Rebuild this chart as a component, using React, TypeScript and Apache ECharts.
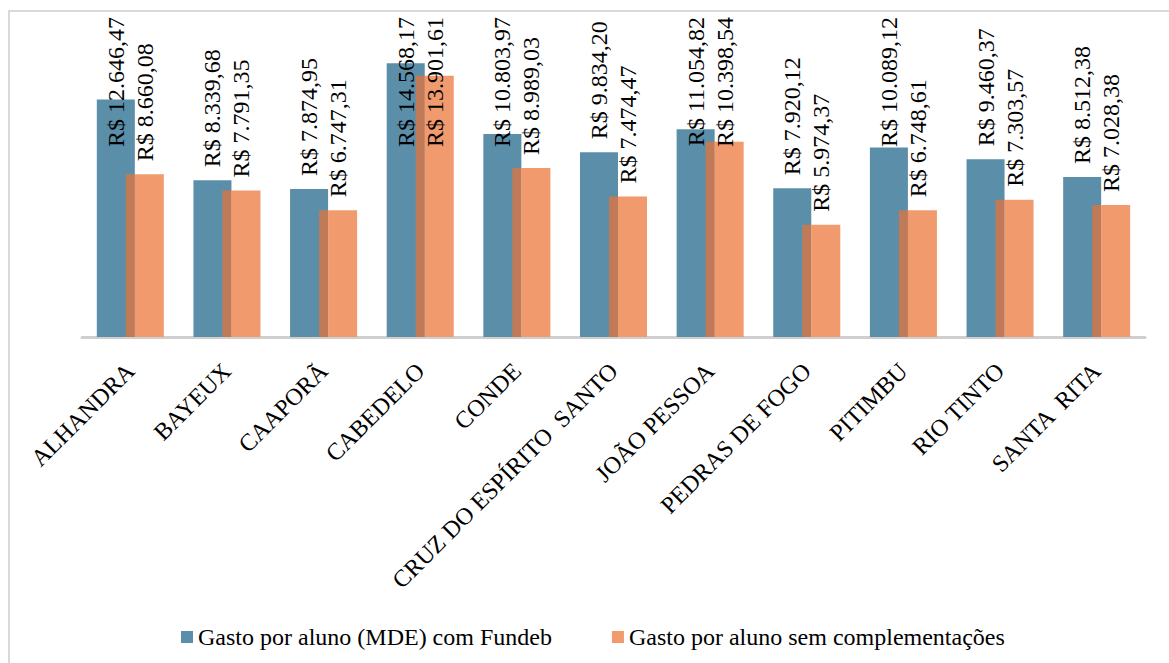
import React, { useEffect, useRef } from "react";
import * as echarts from "echarts";

const categories = [
  "ALHANDRA",
  "BAYEUX",
  "CAAPORÃ",
  "CABEDELO",
  "CONDE",
  "CRUZ DO ESPÍRITO  SANTO",
  "JOÃO PESSOA",
  "PEDRAS DE FOGO",
  "PITIMBU",
  "RIO TINTO",
  "SANTA  RITA",
];

const comFundeb = [
  12646.47, 8339.68, 7874.95, 14568.17, 10803.97, 9834.2, 11054.82, 7920.12,
  10089.12, 9460.37, 8512.38,
];

const semComplementacoes = [
  8660.08, 7791.35, 6747.31, 13901.61, 8989.03, 7474.47, 10398.54, 5974.37,
  6748.61, 7303.57, 7028.38,
];

const seriesNames = [
  "Gasto por aluno (MDE) com Fundeb",
  "Gasto por aluno sem complementações",
];

const BLUE = "#5b8fa9";
const ORANGE = "#f09a6e";
const OVERLAP = "#c07a58";
const LABEL_SIZE = 24;
const FONT_FAMILY = "Liberation Serif";
const LABEL_FONT = LABEL_SIZE + "px 'Liberation Serif'";

let measureCtx: CanvasRenderingContext2D | null = null;
function textWidth(t: string): number {
  if (!measureCtx) {
    const c = document.createElement("canvas");
    measureCtx = c.getContext("2d");
  }
  if (!measureCtx) return t.length * 11;
  measureCtx.font = LABEL_FONT;
  return measureCtx.measureText(t).width;
}

function fmt(v: number): string {
  return (
    "R$ " +
    v.toLocaleString("pt-BR", {
      minimumFractionDigits: 2,
      maximumFractionDigits: 2,
    })
  );
}

function makeRender(which: 0 | 1) {
  return (params: any, api: any) => {
    const idx = api.value(0);
    const v = api.value(1);
    const base = api.coord([idx, 0]);
    const top = api.coord([idx, v]);
    const band = api.size([1, 0])[0];
    const k = band / 96.6;
    const cx = base[0];
    const h = base[1] - top[1];
    const w = 38 * k;
    const children: any[] = [];
    let barCenter: number;
    if (which === 0) {
      const left = cx - 33.5 * k;
      children.push({
        type: "rect",
        shape: { x: left, y: top[1], width: w, height: h },
        style: { fill: BLUE },
      });
      barCenter = left + w / 2;
    } else {
      const left = cx - 4.5 * k;
      const ov = 9 * k;
      children.push({
        type: "rect",
        shape: { x: left, y: top[1], width: ov, height: h },
        style: { fill: OVERLAP },
      });
      children.push({
        type: "rect",
        shape: { x: left + ov, y: top[1], width: w - ov, height: h },
        style: { fill: ORANGE },
      });
      barCenter = left + w / 2;
    }
    const txt = fmt(v);
    const tw = textWidth(txt);
    const start = top[1] - 13;
    const clampTop = 17;
    const clamped = start - tw < clampTop;
    children.push({
      type: "text",
      x: barCenter,
      y: clamped ? clampTop : start,
      rotation: Math.PI / 2,
      z2: 100,
      style: {
        text: txt,
        font: LABEL_FONT,
        fontSize: LABEL_SIZE,
        fontFamily: FONT_FAMILY,
        fill: "#000",
        align: clamped ? "right" : "left",
        verticalAlign: "middle",
      },
    });
    return { type: "group", children };
  };
}

export default function App() {
  const ref = useRef<HTMLDivElement>(null);
  useEffect(() => {
    if (!ref.current) return;
    const chart = echarts.init(ref.current, undefined, { renderer: "svg" });
    chart.setOption({
      animation: false,
      backgroundColor: "#fff",
      textStyle: { fontFamily: FONT_FAMILY },
      grid: { left: 82, right: 24, top: 36.4, bottom: 326 },
      xAxis: {
        type: "category",
        data: categories,
        axisTick: { show: false },
        axisLine: { lineStyle: { color: "#cfcfcf", width: 3 } },
        axisLabel: {
          interval: 0,
          rotate: 45,
          margin: 30,
          color: "#000",
          fontSize: 24,
          fontFamily: FONT_FAMILY,
        },
      },
      yAxis: {
        type: "value",
        min: 0,
        max: 16000,
        show: false,
      },
      legend: {
        left: 176,
        top: 620,
        icon: "rect",
        itemWidth: 12,
        itemHeight: 12,
        itemGap: 60,
        textStyle: { fontSize: 24, fontFamily: FONT_FAMILY, color: "#000" },
        data: seriesNames,
      },
      graphic: [
        {
          type: "polyline",
          shape: {
            points: [
              [9, 663],
              [9, 11],
              [1169, 11],
            ],
          },
          style: { stroke: "#d9d9d9", lineWidth: 2, fill: "none" },
          silent: true,
        },
      ],
      series: [
        {
          type: "custom",
          name: seriesNames[0],
          itemStyle: { color: BLUE },
          data: comFundeb.map((v, i) => [i, v]),
          encode: { x: 0, y: 1 },
          renderItem: makeRender(0),
        },
        {
          type: "custom",
          name: seriesNames[1],
          itemStyle: { color: ORANGE },
          data: semComplementacoes.map((v, i) => [i, v]),
          encode: { x: 0, y: 1 },
          renderItem: makeRender(1),
        },
      ],
    });
    return () => chart.dispose();
  }, []);
  return (
    <div
      ref={ref}
      style={{ position: "absolute", left: 0, top: 0, width: 1169, height: 663 }}
    />
  );
}
